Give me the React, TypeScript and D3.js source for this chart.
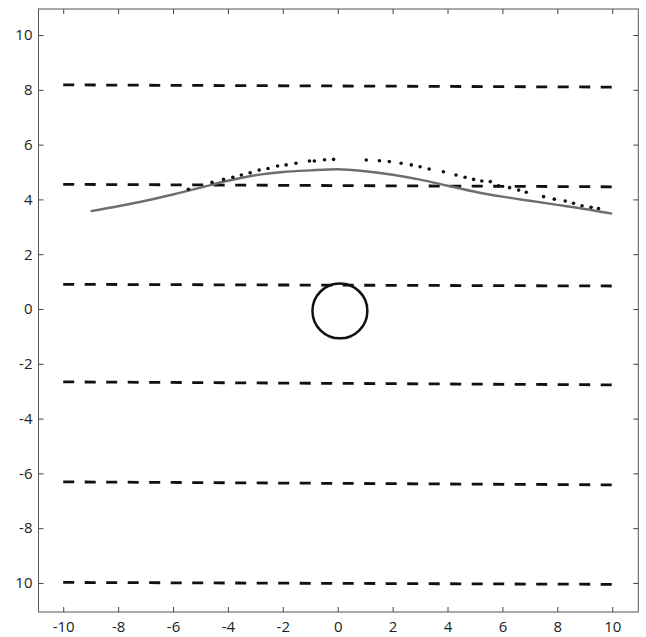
import { useEffect, useRef } from "react";
import * as d3 from "d3";

// tick values and the labels printed next to them (bottom y label reads "10" in the source)
const xTicks = [-10, -8, -6, -4, -2, 0, 2, 4, 6, 8, 10];
const xTickLabels = ["-10", "-8", "-6", "-4", "-2", "0", "2", "4", "6", "8", "10"];
const yTicks = [10, 8, 6, 4, 2, 0, -2, -4, -6, -8, -10];
const yTickLabels = ["10", "8", "6", "4", "2", "0", "-2", "-4", "-6", "-8", "10"];

// horizontal dashed lines: level at x=-10 and at x=10
const dashLeft = [8.18, 4.55, 0.9, -2.66, -6.31, -9.98];
const dashRight = [8.1, 4.46, 0.84, -2.77, -6.42, -10.05];

// solid gray curve
const curveX = [-9, -8, -7, -6, -5, -4, -3, -2, -1, 0, 1, 2, 3, 4, 5, 6, 7, 8, 9, 10];
const curveY = [3.57, 3.75, 3.95, 4.18, 4.43, 4.68, 4.88, 5.0, 5.06, 5.1, 5.03, 4.9, 4.72, 4.5, 4.28, 4.1, 3.95, 3.8, 3.65, 3.48];

// dotted series
const dotX = [-5.44, -4.58, -4.16, -3.82, -3.51, -3.19, -2.86, -2.54, -2.19, -1.88, -1.52, -1.03, -0.85, -0.48, -0.15,
  1.04, 1.52, 1.88, 2.31, 2.68, 3.0, 3.33, 3.85, 4.31, 4.64, 4.95, 5.25, 5.56, 5.86, 6.26, 6.59, 6.87,
  7.5, 7.89, 8.29, 8.59, 8.9, 9.23, 9.5];
const dotY = [4.37, 4.62, 4.73, 4.81, 4.89, 4.97, 5.07, 5.13, 5.22, 5.26, 5.32, 5.4, 5.4, 5.45, 5.46,
  5.44, 5.41, 5.38, 5.32, 5.26, 5.19, 5.11, 5.01, 4.89, 4.81, 4.73, 4.67, 4.65, 4.5, 4.43, 4.34, 4.26,
  4.1, 4.01, 3.94, 3.86, 3.77, 3.71, 3.67];

// circle
const circleCenter = [0.08, -0.07];
const circleRadius = 1;

const W = 646, H = 637;

const App = () => {
  const svgRef = useRef<SVGSVGElement>(null);

  useEffect(() => {
    const svg = d3.select(svgRef.current);
    svg.selectAll("*").remove();

    const x = d3.scaleLinear().domain([-10.9, 10.95]).range([38.5, 638.3]);
    const y = d3.scaleLinear().domain([-11.06, 10.95]).range([612, 9]);
    const [x0, x1] = x.range();
    const [yb, yt] = y.range();

    svg.append("rect")
      .attr("width", W).attr("height", H).attr("fill", "#fff");

    const font = (g: any) => g.selectAll("text")
      .attr("font-family", "'Open Sans', sans-serif")
      .attr("font-size", 15)
      .attr("fill", "#222");

    const bottom = svg.append("g").attr("transform", `translate(0,${yb})`)
      .call(d3.axisBottom(x).tickValues(xTicks)
        .tickFormat((_, i) => xTickLabels[i]).tickSizeInner(-5).tickSizeOuter(0).tickPadding(9));
    const top = svg.append("g").attr("transform", `translate(0,${yt})`)
      .call(d3.axisTop(x).tickValues(xTicks).tickFormat(() => "").tickSizeInner(-5).tickSizeOuter(0));
    const left = svg.append("g").attr("transform", `translate(${x0},0)`)
      .call(d3.axisLeft(y).tickValues(yTicks)
        .tickFormat((_, i) => yTickLabels[i]).tickSizeInner(-5).tickSizeOuter(0).tickPadding(6));
    const right = svg.append("g").attr("transform", `translate(${x1},0)`)
      .call(d3.axisRight(y).tickValues(yTicks).tickFormat(() => "").tickSizeInner(-5).tickSizeOuter(0));

    [bottom, top, left, right].forEach(g => {
      g.select(".domain").remove();
      g.selectAll("line").attr("stroke", "#444");
      font(g);
    });

    svg.append("rect")
      .attr("x", x0).attr("y", yt)
      .attr("width", x1 - x0).attr("height", yb - yt)
      .attr("fill", "none").attr("stroke", "#555").attr("stroke-width", 1);

    // dashed levels
    svg.append("g").selectAll("line")
      .data(dashLeft)
      .enter()
      .append("line")
      .attr("x1", x(-10)).attr("x2", x(10))
      .attr("y1", d => y(d))
      .attr("y2", (_, i) => y(dashRight[i]))
      .attr("stroke", "#111")
      .attr("stroke-width", 2.8)
      .attr("stroke-dasharray", "11,10.5");

    // gray curve
    const line = d3.line<number>()
      .x((_, i) => x(curveX[i]))
      .y(d => y(d))
      .curve(d3.curveMonotoneX);
    svg.append("path")
      .attr("d", line(curveY))
      .attr("fill", "none")
      .attr("stroke", "#6e6e6e")
      .attr("stroke-width", 2.4);

    // dots
    svg.append("g").selectAll("circle")
      .data(dotY)
      .enter()
      .append("circle")
      .attr("cx", (_, i) => x(dotX[i]))
      .attr("cy", d => y(d))
      .attr("r", 1.8)
      .attr("fill", "#111");

    // circle
    svg.append("circle")
      .attr("cx", x(circleCenter[0]))
      .attr("cy", y(circleCenter[1]))
      .attr("r", x(circleRadius) - x(0))
      .attr("fill", "none")
      .attr("stroke", "#111")
      .attr("stroke-width", 2.5);
  }, []);

  return (
    <svg ref={svgRef} width={W} height={H}
      style={{ position: "absolute", left: 0, top: 0, display: "block" }} />
  );
};

export default App;
